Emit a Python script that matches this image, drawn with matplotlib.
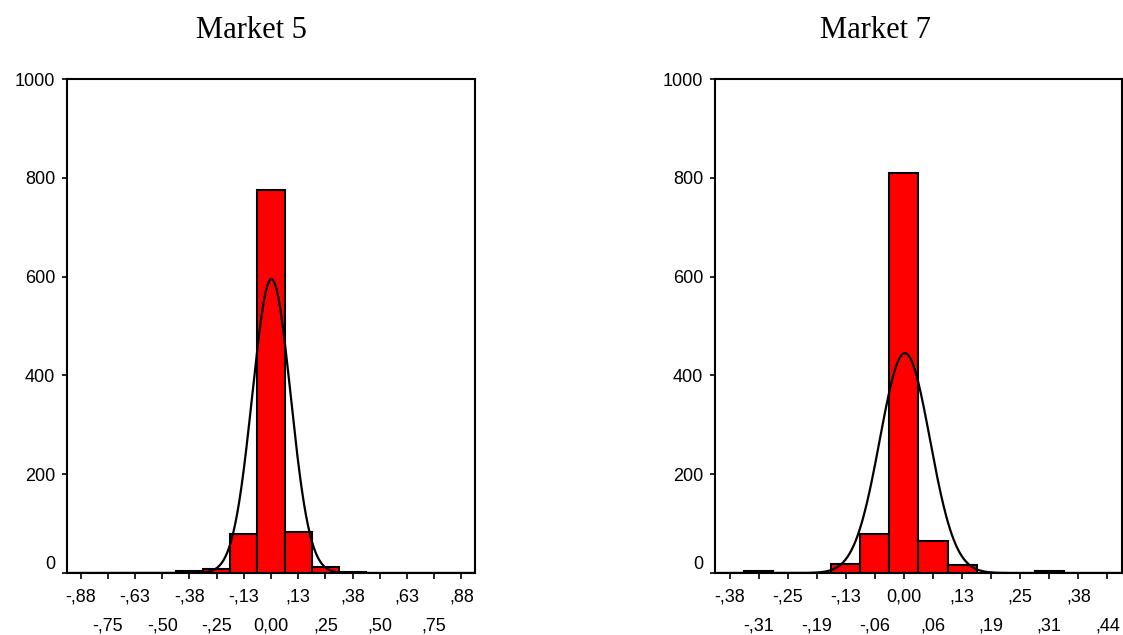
import numpy as np
import matplotlib
matplotlib.use("Agg")
import matplotlib.pyplot as plt

# Market 5 histogram (bin width 0.125)
m5_centers = [-0.875, -0.75, -0.625, -0.5, -0.375, -0.25, -0.125, 0.0,
              0.125, 0.25, 0.375, 0.5, 0.625, 0.75, 0.875]
m5_counts = [1, 0, 0, 0, 5, 8, 79, 775, 82, 13, 2, 0, 0, 0, 1]
m5_curve = {"mean": 0.002, "sd": 0.088, "peak": 595}
m5_ticks_row1 = [-0.875, -0.625, -0.375, -0.125, 0.125, 0.375, 0.625, 0.875]
m5_labels_row1 = ["-,88", "-,63", "-,38", "-,13", ",13", ",38", ",63", ",88"]
m5_ticks_row2 = [-0.75, -0.5, -0.25, 0.0, 0.25, 0.5, 0.75]
m5_labels_row2 = ["-,75", "-,50", "-,25", "0,00", ",25", ",50", ",75"]

# Market 7 histogram (bin width 0.0625)
m7_centers = [-0.375, -0.3125, -0.25, -0.1875, -0.125, -0.0625, 0.0,
              0.0625, 0.125, 0.1875, 0.25, 0.3125, 0.375, 0.4375]
m7_counts = [0, 5, 1, 1, 19, 79, 810, 65, 16, 1, 1, 4, 1, 0]
m7_curve = {"mean": 0.002, "sd": 0.054, "peak": 445}
m7_ticks_row1 = [-0.375, -0.25, -0.125, 0.0, 0.125, 0.25, 0.375]
m7_labels_row1 = ["-,38", "-,25", "-,13", "0,00", ",13", ",25", ",38"]
m7_ticks_row2 = [-0.3125, -0.1875, -0.0625, 0.0625, 0.1875, 0.3125, 0.4375]
m7_labels_row2 = ["-,31", "-,19", "-,06", ",06", ",19", ",31", ",44"]

y_ticks = [0, 200, 400, 600, 800, 1000]

plt.rcParams["font.family"] = ["Liberation Sans", "DejaVu Sans"]

W, H = 1123, 635
fig = plt.figure(figsize=(W / 100, H / 100), dpi=100)


def draw_hist(rect, centers, counts, curve, t1, l1, t2, l2, title, title_x):
    ax = fig.add_axes(rect)
    centers = np.array(centers)
    width = centers[1] - centers[0]
    ax.bar(centers, counts, width=width, color="#ff0000",
           edgecolor="black", linewidth=1.5, zorder=2)
    lo = centers[0] - width / 2
    hi = centers[-1] + width / 2
    xs = np.linspace(lo, hi, 600)
    ys = curve["peak"] * np.exp(-0.5 * ((xs - curve["mean"]) / curve["sd"]) ** 2)
    ax.plot(xs, ys, color="black", linewidth=1.6, zorder=3)
    ax.set_xlim(lo, hi)
    ax.set_ylim(0, 1000)

    ax.set_xticks(t1)
    ax.set_xticklabels(l1)
    ax.set_xticks(t2, minor=True)
    ax.set_xticklabels(l2, minor=True)
    ax.tick_params(axis="x", which="major", direction="out", length=4.3,
                   width=1.2, pad=6.5, labelsize=13)
    ax.tick_params(axis="x", which="minor", direction="out", length=4.3,
                   width=1.2, pad=28, labelsize=13)
    ax.set_yticks(y_ticks)
    ax.set_yticklabels([str(v) for v in y_ticks])
    ax.tick_params(axis="y", direction="out", length=3.6, width=1.2,
                   pad=5, labelsize=13)
    ax.get_yticklabels()[0].set_verticalalignment("bottom")
    for s in ax.spines.values():
        s.set_linewidth(1.5)
    fig.text(title_x / W, 1 - 30 / H, title, ha="center", va="center",
             fontsize=22, family="Liberation Serif")
    return ax


draw_hist([67 / W, 1 - 573 / H, 408 / W, 494 / H], m5_centers, m5_counts,
          m5_curve, m5_ticks_row1, m5_labels_row1, m5_ticks_row2,
          m5_labels_row2, "Market 5", 251)
draw_hist([715 / W, 1 - 573 / H, 407 / W, 494 / H], m7_centers, m7_counts,
          m7_curve, m7_ticks_row1, m7_labels_row1, m7_ticks_row2,
          m7_labels_row2, "Market 7", 875)

fig.savefig("out.png", dpi=100)
